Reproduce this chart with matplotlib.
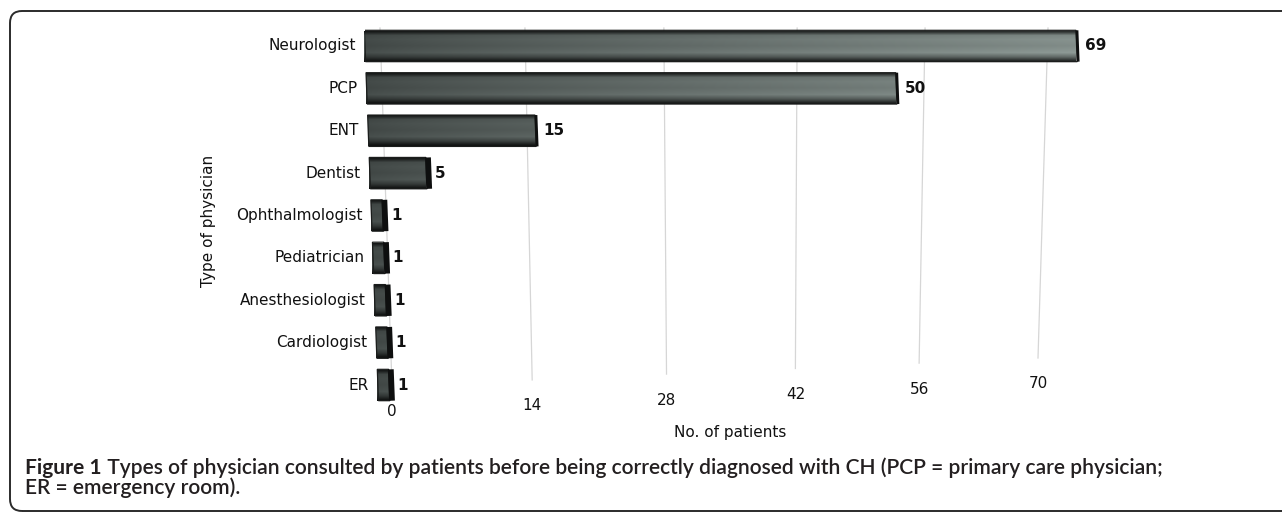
import numpy as np
import matplotlib
matplotlib.use("Agg")
import matplotlib.pyplot as plt
from matplotlib.transforms import Affine2D, IdentityTransform
from matplotlib.patches import FancyBboxPatch
from matplotlib.lines import Line2D
import matplotlib.font_manager as fm

# ---- data -------------------------------------------------------------
physicians = ["Neurologist", "PCP", "ENT", "Dentist", "Ophthalmologist",
              "Pediatrician", "Anesthesiologist", "Cardiologist", "ER"]
patients = [69, 50, 15, 5, 1, 1, 1, 1, 1]
x_ticks = [0, 14, 28, 42, 56, 70]
x_label = "No. of patients"
y_label = "Type of physician"
caption_bold = "Figure 1"
caption_rest = (" Types of physician consulted by patients before being correctly "
                "diagnosed with CH (PCP = primary care physician;")
caption_line2 = "ER = emergency room)."

# ---- figure -----------------------------------------------------------
W, H, DPI = 1282, 512, 100
fig = plt.figure(figsize=(W / DPI, H / DPI), dpi=DPI)
fig.patch.set_facecolor("white")

names = {f.name for f in fm.fontManager.ttflist}
chart_font = "DejaVu Sans"
cap_font = next((n for n in ["Lato", "Open Sans", "Noto Sans"] if n in names),
                "DejaVu Sans")
plt.rcParams["font.family"] = [chart_font]
TXT = "#111111"
FS = 11


def rect_px(left, top, right, bottom):
    """Axes rectangle from pixel edges measured from the top-left corner."""
    return [left / W, 1 - bottom / H, (right - left) / W, (bottom - top) / H]


# perspective-like compression of the value axis
B = 0.00155


def fwd(x):
    x = np.asarray(x, dtype=float)
    return x / (1 + B * x)


def inv(y):
    y = np.asarray(y, dtype=float)
    return y / (1 - B * y)


# rounded panel border
frame = FancyBboxPatch((10, 1), 1300, 500, boxstyle="round,pad=0,rounding_size=12",
                       transform=IdentityTransform(), facecolor="none",
                       edgecolor="#2b2b2b", lw=1.4, zorder=-2)
fig.add_artist(frame)

# back wall carrying the grid tops
wall = fig.add_axes(rect_px(380, 28, 1048, 386))
wall.set_xscale("function", functions=(fwd, inv))
wall.set_xlim(0, 70)
wall.set_ylim(0, 1)
wall.axis("off")
wall.patch.set_visible(False)

# floor line carrying the grid bottoms and tick labels
floor = fig.add_axes(rect_px(392, 385, 1038, 386))
floor.set_xscale("function", functions=(fwd, inv))
floor.set_xlim(0, 70)
floor.set_ylim(0, 1)
floor.axis("off")
floor.patch.set_visible(False)
floor_disp = floor.transData.transform((0, 0))
KF = 28 / 646
floor_tr = floor.transData + Affine2D().from_values(1, KF, 0, 1, 0, -KF * floor_disp[0])

for v in x_ticks:
    top = wall.transData.transform((v, 1))
    bot = floor_tr.transform((v, 0))
    fig.add_artist(Line2D([top[0], bot[0]], [top[1], bot[1]], transform=IdentityTransform(),
                          color="#d6d6d6", lw=0.9, zorder=-1))
    floor.annotate(str(v), xy=(v, 0), xycoords=floor_tr, xytext=(0, -26),
                   textcoords="offset pixels", ha="center", va="center",
                   fontsize=FS, color=TXT)

# bars in front of the wall
ax = fig.add_axes(rect_px(365, 24.8, 365 + 720.9, 406.2))
ax.set_xscale("function", functions=(fwd, inv))
ax.axis("off")
ax.patch.set_visible(False)
ys = np.arange(len(physicians))
ax.set_xlim(0, 70)
ax.set_ylim(len(physicians) - 0.5, -0.5)

y_ref = ax.transData.transform((0, 0))[1]
K = 0.038
bar_tr = ax.transData + Affine2D().from_values(1, 0, -K, 1, K * y_ref, 0)

# shading: darker on the left, lighter to the right, dark rims top and bottom
nx, ny = 256, 64
gx = np.linspace(0, 1, nx)
left_c = np.array([70, 77, 75]) / 255
right_c = np.array([140, 152, 148]) / 255
row = left_c[None, :] + (right_c - left_c)[None, :] * gx[:, None] ** 0.8
gy = np.linspace(0, 1, ny)
prof = np.interp(gy, [0, 0.06, 0.16, 0.3, 0.5, 0.72, 0.86, 1.0],
                 [0.2, 0.4, 0.9, 0.97, 0.92, 1.02, 0.7, 0.2])
grad = np.clip(prof[:, None, None] * row[None, :, :], 0, 1)

BH = 0.74
bars = ax.barh(ys, patients, height=BH, left=0, color="none",
               edgecolor="#1b1d1c", lw=0.9, zorder=3)
for y, v, rect in zip(ys, patients, bars):
    rect.set_transform(bar_tr)
    im = ax.imshow(grad, extent=(0, 70, y + BH / 2, y - BH / 2), aspect="auto",
                   interpolation="bilinear", transform=bar_tr, zorder=2)
    im.set_clip_path(rect)
    side = 4.2 if v < 10 else 2.0
    ax.plot([v, v], [y - BH / 2, y + BH / 2], color="#0e0f0f", lw=side,
            solid_capstyle="butt", transform=bar_tr + Affine2D().translate(side / 2, 0),
            zorder=4)
    ax.annotate(str(v), xy=(v, y), xycoords=bar_tr, xytext=(8, 0),
                textcoords="offset pixels", ha="left", va="center",
                fontsize=FS, fontweight="bold", color=TXT)
    ax.annotate(physicians[y], xy=(0, y), xycoords=bar_tr, xytext=(-9, 0),
                textcoords="offset pixels", ha="right", va="center",
                fontsize=FS, color=TXT)

ax.set_xlim(0, 70)
ax.set_ylim(len(physicians) - 0.5, -0.5)

fig.text(208 / W, 1 - 221 / H, y_label, rotation=90, ha="center", va="center",
         fontsize=FS, color=TXT)
fig.text(730 / W, 1 - 432 / H, x_label, ha="center", va="center",
         fontsize=FS, color=TXT)

# caption: size chosen so that the first line spans x = 25 .. 1168 px
renderer = fig.canvas.get_renderer()
cap_kw = dict(family=cap_font, va="center", ha="left", color="#231f20")
probe1 = fig.text(0, 0, caption_bold, fontsize=14, fontweight="bold", **cap_kw)
probe2 = fig.text(0, 0, caption_rest, fontsize=14, fontweight="semibold", **cap_kw)
wid = probe1.get_window_extent(renderer).width + probe2.get_window_extent(renderer).width
probe1.remove()
probe2.remove()
CFS = 14 * (1168 - 25) / wid

t1 = fig.text(25 / W, 1 - 468 / H, caption_bold, fontsize=CFS, fontweight="bold", **cap_kw)
bb = t1.get_window_extent(renderer)
fig.text(bb.x1 / W, 1 - 468 / H, caption_rest, fontsize=CFS, fontweight="semibold", **cap_kw)
fig.text(25 / W, 1 - 488 / H, caption_line2, fontsize=CFS, fontweight="semibold", **cap_kw)

fig.savefig("out.png", dpi=DPI)
